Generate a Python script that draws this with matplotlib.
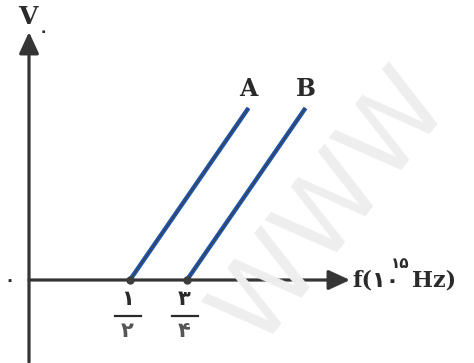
import matplotlib.pyplot as plt

W, H = 474, 363

# threshold frequencies (10^15 Hz) and line end points for the two metals
labels = ["A", "B"]
f_start = [0.5, 0.75]
f_end = [1.02, 1.27]
v_end = [1.0, 1.0]
tick_num = ["۱", "۳"]
tick_den = ["۲", "۴"]

fig = plt.figure(figsize=(W / 100, H / 100), dpi=100)
ax = fig.add_axes([0, 0, 1, 1])
ax.set_xlim(-0.070, 2.009)
ax.set_ylim(-0.483, 1.628)
ax.axis("off")


def px(x, y):
    """pixel position (from top-left) -> figure fraction"""
    return x / W, 1 - y / H


axis_col = "#353535"
ink = "#2a2a2a"
serif = ["DejaVu Serif", "DejaVu Sans"]

# faint watermark behind everything
fig.text(*px(332, 208), "WWW", fontsize=76, rotation=52, color="#eeeeee",
         ha="center", va="center", family="DejaVu Sans", zorder=0)

# axes drawn as arrows
arrow = dict(arrowstyle="-|>,head_length=0.65,head_width=0.3",
             mutation_scale=20, lw=2.3, color=axis_col,
             shrinkA=0, shrinkB=0)
ax.annotate("", xy=px(29, 32), xytext=px(29, 362),
            xycoords="figure fraction", textcoords="figure fraction",
            arrowprops=arrow)
ax.annotate("", xy=px(350, 280), xytext=px(29, 280),
            xycoords="figure fraction", textcoords="figure fraction",
            arrowprops=arrow)

# stopping-potential lines
for lab, f0, f1, v1 in zip(labels, f_start, f_end, v_end):
    ax.plot([f0, f1], [0, v1], color="#1d55b0", lw=3.2,
            solid_capstyle="butt", zorder=3)
    ax.plot([f0, f1], [0, v1], color="#404040", lw=0.8,
            solid_capstyle="butt", zorder=4)
    ax.plot(f0, 0, "o", color="#3d3d3d", ms=5, zorder=5)
    ax.annotate(lab, xy=(f1, v1), xytext=(0, 5), textcoords="offset points",
                ha="center", va="bottom", fontsize=17, fontweight="bold",
                family=serif, color=ink)

# fractional tick labels under the axis
for f0, num, den in zip(f_start, tick_num, tick_den):
    ax.annotate(num, xy=(f0, 0), xytext=(-2, -14), textcoords="offset points",
                ha="center", va="center", fontsize=15, fontweight="bold",
                family=serif, color=ink)
    ax.annotate(den, xy=(f0, 0), xytext=(-2, -37), textcoords="offset points",
                ha="center", va="center", fontsize=15, fontweight="bold",
                family=serif, color="#555555")
    x0 = ax.transData.transform((f0, 0))[0]
    fig.lines.append(plt.Line2D([(x0 - 15) / W, (x0 + 11) / W],
                                [1 - 316 / H, 1 - 316 / H],
                                transform=fig.transFigure, color=ink, lw=1.6))

# axis labels
fig.text(*px(28, 17), "V", fontsize=18, fontweight="bold", family=serif,
         ha="center", va="center", color=ink)
fig.text(*px(43, 32), "۰", fontsize=11, fontweight="bold", family=serif,
         ha="center", va="center", color=ink)
fig.text(*px(9, 281), "۰", fontsize=12, fontweight="bold", family=serif,
         ha="center", va="center", color=ink)

fig.text(*px(352, 280), "f(۱۰", fontsize=16, fontweight="bold", family=serif,
         ha="left", va="center", color=ink)
fig.text(*px(391, 264), "۱۵", fontsize=11, fontweight="bold", family=serif,
         ha="left", va="center", color=ink)
fig.text(*px(412, 280), "Hz)", fontsize=16, fontweight="bold", family=serif,
         ha="left", va="center", color=ink)

fig.savefig("out.png", dpi=100, facecolor="white")
